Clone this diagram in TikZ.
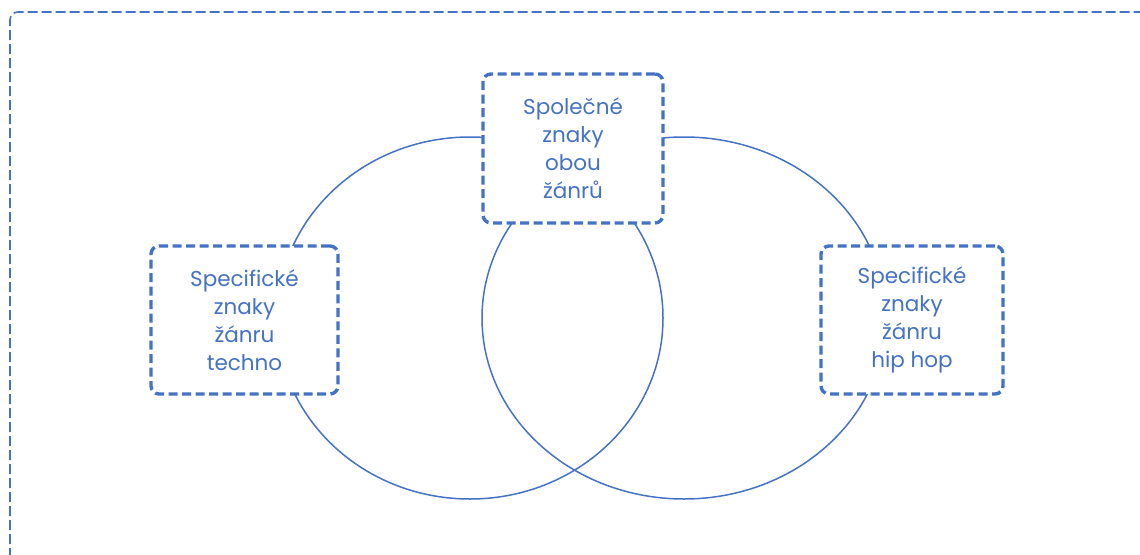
\documentclass[tikz,border=0pt]{standalone}
\usepackage{fontspec}
\setmainfont{Poppins}
\definecolor{vblue}{HTML}{4472C4}
\begin{document}
\begin{tikzpicture}[x=1pt,y=-1pt,
  frame/.style={draw=vblue, line width=1.6pt, dash pattern=on 10pt off 4pt, rounded corners=8pt},
  ring/.style={draw=vblue, line width=1.5pt},
  dbox/.style={draw=vblue, fill=white, line width=3.4pt, dash pattern=on 9pt off 4.5pt,
    rounded corners=8pt, align=center, text=vblue, inner sep=0pt,
    font=\fontsize{21.5pt}{28pt}\selectfont}]
\useasboundingbox (0,0) rectangle (1140,554);
\clip (0,0) rectangle (1140,554);
\draw[frame] (10,600) -- (10,12) -- (1160,12);
\draw[ring] (470,318) ellipse [x radius=193, y radius=181];
\draw[ring] (684,318) ellipse [x radius=202, y radius=181];
\node[dbox, minimum width=180pt, minimum height=149pt] (common) at (573,148.5)
  {Společné\\znaky\\obou\\žánrů};
\node[dbox, minimum width=187pt, minimum height=148pt] (techno) at (244.5,320)
  {Specifické\\znaky\\žánru\\techno};
\node[dbox, minimum width=182pt, minimum height=148pt] (hiphop) at (912,320)
  {Specifické\\znaky\\žánru\\hip hop};
\end{tikzpicture}
\end{document}
